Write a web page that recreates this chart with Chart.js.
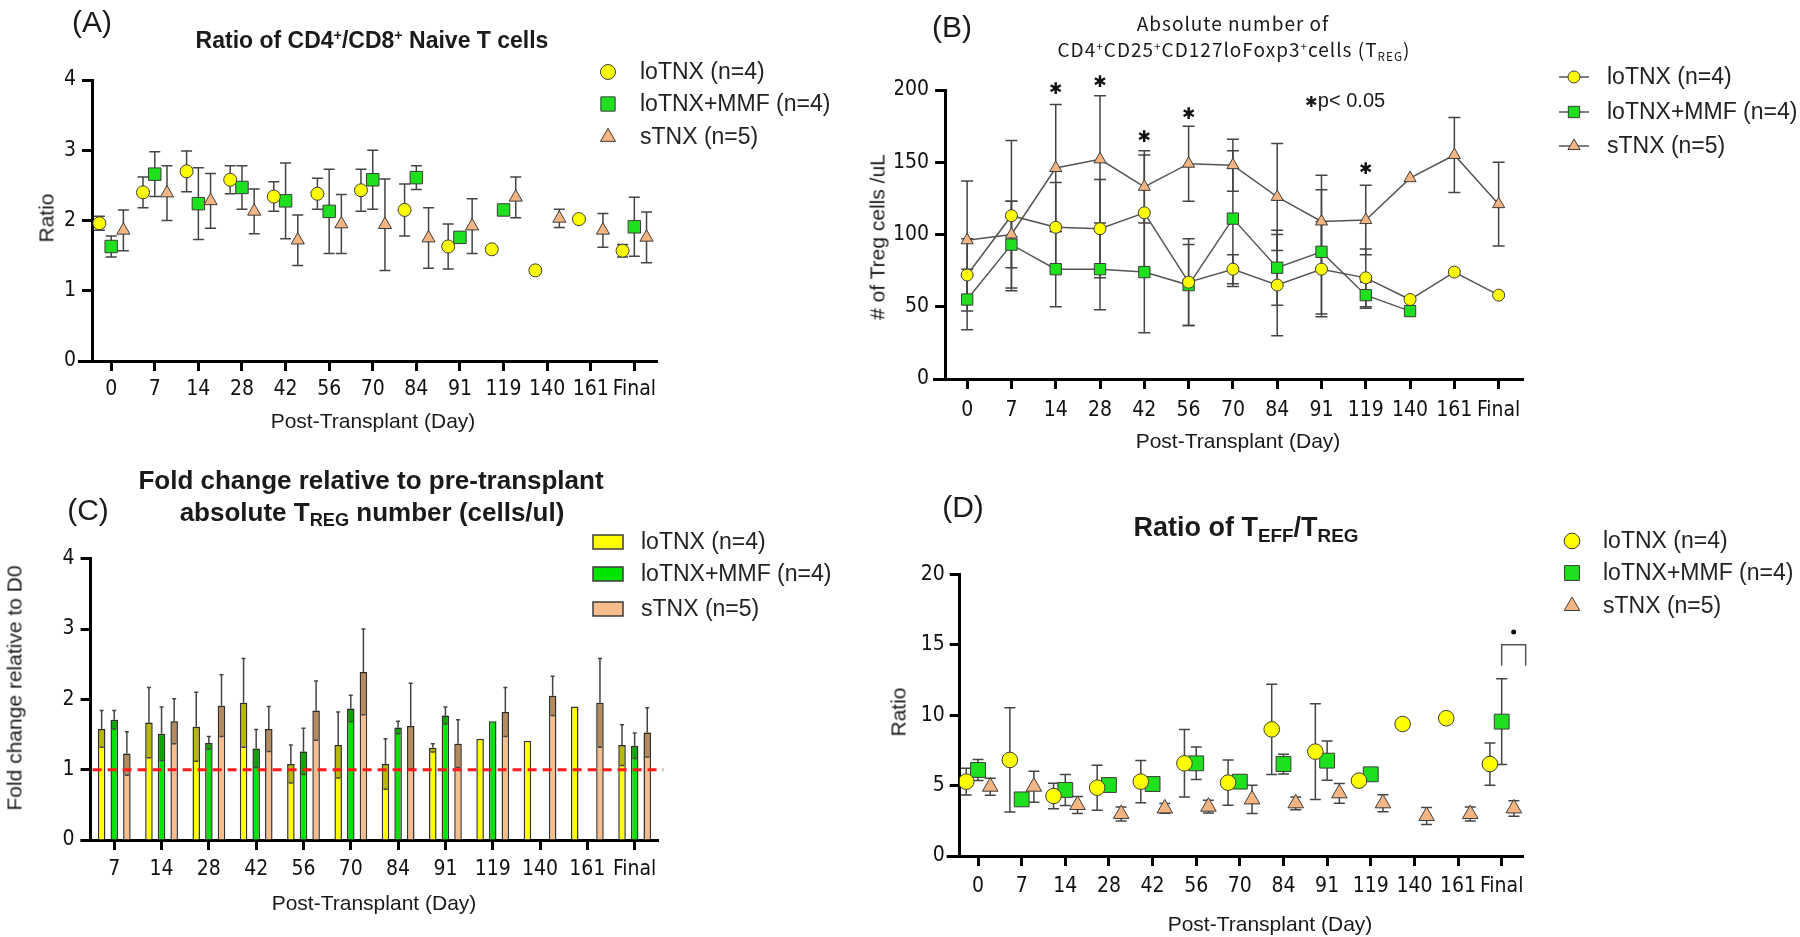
<!DOCTYPE html>
<html>
<head>
<meta charset="utf-8">
<title>Treg panels</title>
<script src="https://cdn.jsdelivr.net/npm/chart.js@4.4.1/dist/chart.umd.min.js"></script>
<style>
  html, body { margin: 0; padding: 0; background: #fff; }
  #page { position: relative; width: 1800px; height: 937px; overflow: hidden;
          font-family: 'Liberation Sans', Arial, sans-serif; color: #1a1a1a; }
  #page canvas { position: absolute; left: 0; top: 0; }
  .t { position: absolute; white-space: nowrap; line-height: 1; transform: translate(-50%, -50%); }
  .v { transform: translate(-50%, -50%) rotate(-90deg); }
  .lab { font-size: 30px; }
  .axt { font-size: 21px; }
  .bt { font-weight: bold; }
  .jp { font-family: 'Noto Sans CJK JP', sans-serif; font-size: 19px; letter-spacing: 1px; }
  sup, sub { font-size: 0.62em; vertical-align: baseline; position: relative; line-height: 0; }
  sup { top: -0.55em; }
  sub { top: 0.3em; }
  .big sub { font-size: 0.7em; }
</style>
</head>
<body>
<div id="page">
  <canvas id="chartA" width="1800" height="937"></canvas>
  <canvas id="chartB" width="1800" height="937"></canvas>
  <canvas id="chartC" width="1800" height="937"></canvas>
  <canvas id="chartD" width="1800" height="937"></canvas>

  <div class="t lab" style="left:92px;top:22px">(A)</div>
  <div class="t lab" style="left:952px;top:27px">(B)</div>
  <div class="t lab" style="left:88px;top:510px">(C)</div>
  <div class="t lab" style="left:963px;top:507px">(D)</div>

  <div class="t bt" style="left:372px;top:40px;font-size:23px">Ratio of CD4<sup>+</sup>/CD8<sup>+</sup> Naive T cells</div>
  <div class="t jp" style="left:1233px;top:22px">Absolute number of</div>
  <div class="t jp" style="left:1234px;top:48px">CD4<sup>+</sup>CD25<sup>+</sup>CD127loFoxp3<sup>+</sup>cells (T<sub>REG</sub>)</div>
  <div class="t bt" style="left:371px;top:480px;font-size:26px">Fold change relative to pre-transplant</div>
  <div class="t bt big" style="left:372px;top:512px;font-size:26px">absolute T<sub>REG</sub> number (cells/ul)</div>
  <div class="t bt big" style="left:1246px;top:527px;font-size:27px">Ratio of T<sub>EFF</sub>/T<sub>REG</sub></div>

  <div class="t axt" style="left:373px;top:420px">Post-Transplant (Day)</div>
  <div class="t axt v" style="left:46px;top:218px">Ratio</div>
  <div class="t axt" style="left:1238px;top:440px">Post-Transplant (Day)</div>
  <div class="t axt v" style="left:877px;top:237px"># of Treg cells /uL</div>
  <div class="t axt" style="left:374px;top:902px">Post-Transplant (Day)</div>
  <div class="t axt v" style="left:14px;top:688px">Fold change relative to D0</div>
  <div class="t axt" style="left:1270px;top:923px">Post-Transplant (Day)</div>
  <div class="t axt v" style="left:898px;top:712px">Ratio</div>

  <div class="t" style="left:1345px;top:100px;font-size:20px"><span style="font-size:15px">✱</span>p&lt; 0.05</div>
</div>

<script>
// ---- data ----
const DAYS = ['0', '7', '14', '28', '42', '56', '70', '84', '91', '119', '140', '161', 'Final'];
const DAYS_C = ['7', '14', '28', '42', '56', '70', '84', '91', '119', '140', '161', 'Final'];
const GROUPS = ['loTNX (n=4)', 'loTNX+MMF (n=4)', 'sTNX (n=5)'];

// (A) CD4/CD8 naive ratio, mean and SEM
const aLo     = [1.96, 2.40, 2.70, 2.58, 2.34, 2.38, 2.43, 2.15, 1.63, 1.59, 1.29, 2.02, 1.57];
const aLoErr  = [0.10, 0.22, 0.29, 0.20, 0.21, 0.22, 0.30, 0.37, 0.32, 0, 0, 0, 0.09];
const aMmf    = [1.63, 2.66, 2.24, 2.47, 2.28, 2.13, 2.58, 2.61, 1.76, 2.15, null, null, 1.91];
const aMmfErr = [0.15, 0.32, 0.51, 0.31, 0.54, 0.60, 0.42, 0.17, 0, 0, null, null, 0.42];
const aS      = [1.86, 2.39, 2.28, 2.13, 1.72, 1.95, 1.94, 1.75, 1.92, 2.33, 2.03, 1.86, 1.76];
const aSErr   = [0.29, 0.39, 0.39, 0.32, 0.36, 0.42, 0.65, 0.43, 0.39, 0.29, 0.13, 0.24, 0.36];

// (B) absolute Treg count (cells/uL)
const bLo     = [72, 113, 105, 104, 115, 67, 76, 65, 76, 70, 55, 74, 58];
const bLoErr  = [25, 52, 31, 34, 40, 30, 10, 35, 33, 20, 0, 0, 0];
const bMmf    = [55, 93, 76, 76, 74, 65, 111, 77, 88, 58, 47, null, null];
const bMmfErr = [21, 30, 26, 28, 42, 28, 47, 26, 43, 9, 0, null, null];
const bS      = [96, 100, 146, 152, 133, 149, 148, 126, 109, 110, 139, 155, 121];
const bSErr   = [41, 23, 44, 44, 25, 26, 18, 37, 32, 24, 0, 26, 29];
const bStarDay = [2, 3, 4, 5, 9];          // index into DAYS
const bStarY   = [200, 205, 167, 183, 145];

// (C) fold change vs D0
const cLo     = [1.58, 1.67, 1.61, 1.95, 1.08, 1.35, 1.08, 1.31, 1.44, 1.41, 1.90, 1.35];
const cLoErr  = [0.26, 0.50, 0.49, 0.63, 0.27, 0.47, 0.36, 0.06, 0, 0, 0, 0.29];
const cMmf    = [1.71, 1.51, 1.38, 1.30, 1.26, 1.87, 1.60, 1.77, 1.69, null, null, 1.34];
const cMmfErr = [0.13, 0.38, 0.09, 0.27, 0.33, 0.19, 0.09, 0.12, 0, null, null, 0.18];
const cS      = [1.23, 1.69, 1.91, 1.58, 1.84, 2.39, 1.62, 1.37, 1.82, 2.05, 1.95, 1.53];
const cSErr   = [0.31, 0.32, 0.44, 0.32, 0.42, 0.61, 0.61, 0.34, 0.35, 0.28, 0.63, 0.35];
const cRefLine = 1;

// (D) Teff/Treg ratio
const dLo     = [5.28, 6.82, 4.26, 4.85, 5.28, 6.58, 5.21, 8.99, 7.41, 5.35, 9.37, 9.78, 6.53];
const dLoErr  = [0.95, 3.7, 0.9, 1.6, 1.5, 2.4, 1.6, 3.2, 3.4, 0, 0, 0, 1.5];
const dMmf    = [6.11, 4.02, 4.69, 5.04, 5.11, 6.58, 5.28, 6.53, 6.77, 5.80, null, null, 9.54];
const dMmfErr = [0.75, 0, 1.1, 0, 0, 1.15, 0, 0.7, 1.4, 0, null, null, 3.05];
const dS      = [4.92, 4.92, 3.62, 2.98, 3.38, 3.50, 4.02, 3.74, 4.45, 3.74, 2.84, 2.98, 3.38];
const dSErr   = [0.6, 1.1, 0.6, 0.5, 0.35, 0.45, 1.0, 0.45, 0.7, 0.6, 0.6, 0.5, 0.55];
const dSig = { from: 12, to: 12.55, top: 15, foot: 13.5, dot: 15.9 };

// ---- look ----
const YEL = '#ffff00', GRN = '#1ee01e', ORG = '#f5b583', EDGE = '#3c3c3c';
const BAR_YEL = '#ffff00', BAR_GRN = '#00e400', BAR_ORG = '#f8bd8c';
const SHIFT = [-0.27, 0, 0.28];   // side-by-side offset inside a day
const TICK_FONT = { family: "'Liberation Sans Narrow','DejaVu Sans Condensed',sans-serif", size: 21 };
const YW = 50, XH = 50;           // fixed scale box sizes

Chart.defaults.animation = false;
Chart.defaults.events = [];
Chart.defaults.color = '#111';

function pad(l, t, r, b) {
  return { left: l - YW, top: t, right: 1800 - r, bottom: 937 - b - XH };
}

function pts(vals, shift) {
  return vals.map((v, i) => ({ x: i + shift, y: v }));
}

function marker(ctx, style, x, y, r) {
  ctx.beginPath();
  if (style === 'circle') {
    ctx.arc(x, y, r, 0, Math.PI * 2);
  } else if (style === 'rect') {
    const s = r * Math.SQRT1_2;
    ctx.rect(x - s, y - s, 2 * s, 2 * s);
  } else {
    const a = 2 * Math.PI / 3;
    ctx.moveTo(x, y - r);
    ctx.lineTo(x + r * Math.sin(a), y - r * Math.cos(a));
    ctx.lineTo(x + r * Math.sin(2 * a), y - r * Math.cos(2 * a));
    ctx.closePath();
  }
  ctx.fill();
  ctx.stroke();
}

function yAxis(max, step, tickPad) {
  return {
    min: 0, max: max,
    ticks: { stepSize: step, font: TICK_FONT, color: '#111', padding: tickPad },
    grid: { drawOnChartArea: false, tickLength: 10, tickWidth: 3, color: '#000' },
    border: { width: 3, color: '#000' },
    afterFit: s => { s.width = YW; }
  };
}

function xLinear(min, max, tickPad) {
  return {
    type: 'linear', min: min, max: max,
    afterBuildTicks: s => { s.ticks = DAYS.map((d, i) => ({ value: i })); },
    ticks: { callback: v => DAYS[v], autoSkip: false, maxRotation: 0, font: TICK_FONT, color: '#111', padding: tickPad },
    grid: { drawOnChartArea: false, tickLength: 10, tickWidth: 3, color: '#000' },
    border: { width: 3, color: '#000' },
    afterFit: s => { s.height = XH; }
  };
}

// ---- plugins ----
const pointErr = {
  id: 'pointErr',
  beforeDatasetsDraw(chart, args, o) {
    const { ctx } = chart, y = chart.scales.y;
    ctx.save();
    ctx.strokeStyle = o.color || '#444';
    ctx.lineWidth = o.width || 1.5;
    chart.data.datasets.forEach((ds, di) => {
      const meta = chart.getDatasetMeta(di);
      (ds.err || []).forEach((e, i) => {
        const v = ds.data[i].y;
        if (v == null || !e) return;
        const px = meta.data[i].x;
        const top = y.getPixelForValue(v + e), bot = y.getPixelForValue(v - e);
        ctx.beginPath();
        ctx.moveTo(px, top); ctx.lineTo(px, bot);
        ctx.moveTo(px - o.cap, top); ctx.lineTo(px + o.cap, top);
        ctx.moveTo(px - o.cap, bot); ctx.lineTo(px + o.cap, bot);
        ctx.stroke();
      });
    });
    ctx.restore();
  }
};

const barErr = {
  id: 'barErr',
  afterDatasetsDraw(chart, args, o) {
    const { ctx } = chart, y = chart.scales.y;
    ctx.save();
    chart.data.datasets.forEach((ds, di) => {
      const meta = chart.getDatasetMeta(di);
      ds.err.forEach((e, i) => {
        const v = ds.data[i];
        if (v == null || !e) return;
        const bar = meta.data[i], half = bar.width / 2;
        const top = y.getPixelForValue(v), lo = y.getPixelForValue(v - e), hi = y.getPixelForValue(v + e);
        ctx.fillStyle = 'rgba(40,30,0,0.32)';
        ctx.fillRect(bar.x - half + 1, top, 2 * half - 2, lo - top);
        ctx.strokeStyle = '#444';
        ctx.lineWidth = 1.5;
        ctx.beginPath();
        ctx.moveTo(bar.x - 2, lo); ctx.lineTo(bar.x + 2, lo);
        ctx.moveTo(bar.x, top); ctx.lineTo(bar.x, hi);
        ctx.moveTo(bar.x - 2, hi); ctx.lineTo(bar.x + 2, hi);
        ctx.stroke();
      });
    });
    ctx.restore();
  }
};

const axisStub = {
  id: 'axisStub',
  afterDraw(chart, args, o) {
    if (!o.len) return;
    const { ctx, chartArea: a } = chart;
    ctx.save();
    ctx.strokeStyle = '#000';
    ctx.lineWidth = 3;
    ctx.beginPath();
    ctx.moveTo(a.left - o.len, a.bottom + 0.5);
    ctx.lineTo(a.left, a.bottom + 0.5);
    ctx.stroke();
    ctx.restore();
  }
};

const sideLegend = {
  id: 'sideLegend',
  afterDraw(chart, args, o) {
    if (!o.ys) return;
    const { ctx } = chart;
    ctx.save();
    ctx.font = '23px "Liberation Sans", Arial, sans-serif';
    ctx.textBaseline = 'middle';
    chart.data.datasets.forEach((ds, i) => {
      const y = o.ys[i];
      ctx.fillStyle = ds.backgroundColor;
      ctx.strokeStyle = EDGE;
      ctx.lineWidth = 1;
      if (o.box) {
        ctx.lineWidth = 1.5;
        ctx.fillRect(o.x - o.box[0] / 2, y - o.box[1] / 2, o.box[0], o.box[1]);
        ctx.strokeRect(o.x - o.box[0] / 2, y - o.box[1] / 2, o.box[0], o.box[1]);
      } else {
        if (o.line) {
          ctx.strokeStyle = '#555';
          ctx.lineWidth = 1.5;
          ctx.beginPath();
          ctx.moveTo(o.x - o.line, y); ctx.lineTo(o.x + o.line, y);
          ctx.stroke();
          ctx.strokeStyle = EDGE;
          ctx.lineWidth = 1;
        }
        marker(ctx, ds.pointStyle, o.x, y, ds.pointRadius * (o.grow || 1));
      }
      ctx.fillStyle = '#222';
      ctx.fillText(ds.label, o.textX, y + 1);
    });
    ctx.restore();
  }
};

const extras = {
  id: 'extras',
  afterDraw(chart, args, o) {
    const { ctx, chartArea: a } = chart, x = chart.scales.x, y = chart.scales.y;
    ctx.save();
    if (o.stars) {
      ctx.fillStyle = '#111';
      ctx.font = 'bold 16px "DejaVu Sans", sans-serif';
      ctx.textAlign = 'center';
      ctx.textBaseline = 'middle';
      o.stars.day.forEach((d, i) => {
        ctx.fillText('✱', x.getPixelForValue(d), y.getPixelForValue(o.stars.val[i]));
      });
    }
    if (o.refLine != null) {
      const py = y.getPixelForValue(o.refLine);
      ctx.strokeStyle = '#ff1a1a';
      ctx.lineWidth = 3;
      ctx.setLineDash([9, 6]);
      ctx.beginPath();
      ctx.moveTo(a.left + 2, py); ctx.lineTo(a.right + 5, py);
      ctx.stroke();
      ctx.setLineDash([]);
    }
    if (o.sig) {
      const s = o.sig;
      const x0 = x.getPixelForValue(s.from), x1 = x.getPixelForValue(s.to);
      const yt = y.getPixelForValue(s.top), yf = y.getPixelForValue(s.foot);
      ctx.strokeStyle = '#555';
      ctx.lineWidth = 1.5;
      ctx.beginPath();
      ctx.moveTo(x0, yf); ctx.lineTo(x0, yt); ctx.lineTo(x1, yt); ctx.lineTo(x1, yf);
      ctx.stroke();
      ctx.fillStyle = '#111';
      ctx.beginPath();
      ctx.arc((x0 + x1) / 2, y.getPixelForValue(s.dot), 2.5, 0, Math.PI * 2);
      ctx.fill();
    }
    ctx.restore();
  }
};

function scatterSets(vals, errs, radii, line) {
  const fills = [YEL, GRN, ORG], styles = ['circle', 'rect', 'triangle'];
  return vals.map((v, k) => ({
    label: GROUPS[k],
    data: pts(v, line ? 0 : SHIFT[k]),
    err: errs[k],
    showLine: !!line,
    borderColor: line ? '#555' : EDGE,
    borderWidth: line ? 1.5 : 1,
    spanGaps: false,
    backgroundColor: fills[k],
    pointBackgroundColor: fills[k],
    pointBorderColor: EDGE,
    pointBorderWidth: 1,
    pointStyle: styles[k],
    pointRadius: radii[k]
  }));
}

// ---- (A) ----
new Chart(document.getElementById('chartA'), {
  type: 'scatter',
  data: { datasets: scatterSets([aLo, aMmf, aS], [aLoErr, aMmfErr, aSErr], [6.5, 8.8, 7.6], false) },
  options: {
    responsive: false,
    layout: { padding: pad(92, 80, 657, 361) },
    scales: { x: xLinear(-0.44, 12.52, 6), y: yAxis(4, 1, 6) },
    plugins: {
      legend: { display: false }, tooltip: { enabled: false },
      pointErr: { cap: 5.5, width: 1.5, color: '#444' },
      axisStub: { len: 14 },
      sideLegend: { x: 608, textX: 640, ys: [72, 104, 137], grow: 1.15 }
    }
  },
  plugins: [pointErr, axisStub, sideLegend]
});

// ---- (B) ----
new Chart(document.getElementById('chartB'), {
  type: 'scatter',
  data: { datasets: scatterSets([bLo, bMmf, bS], [bLoErr, bMmfErr, bSErr], [6, 8, 7], true) },
  options: {
    responsive: false,
    layout: { padding: pad(945, 90, 1523, 379) },
    scales: { x: xLinear(-0.5, 12.55, 9), y: yAxis(200, 50, 6) },
    plugins: {
      legend: { display: false }, tooltip: { enabled: false },
      pointErr: { cap: 6, width: 1.5, color: '#444' },
      axisStub: { len: 12 },
      sideLegend: { x: 1574, textX: 1607, ys: [77, 112, 146], line: 15 },
      extras: { stars: { day: bStarDay, val: bStarY } }
    }
  },
  plugins: [pointErr, axisStub, sideLegend, extras]
});

// ---- (C) ----
new Chart(document.getElementById('chartC'), {
  type: 'bar',
  data: {
    labels: DAYS_C,
    datasets: [
      { label: GROUPS[0], data: cLo, err: cLoErr, backgroundColor: BAR_YEL },
      { label: GROUPS[1], data: cMmf, err: cMmfErr, backgroundColor: BAR_GRN },
      { label: GROUPS[2], data: cS, err: cSErr, backgroundColor: BAR_ORG }
    ].map(d => Object.assign(d, { borderColor: '#333', borderWidth: 1.5, categoryPercentage: 0.8, barPercentage: 0.6 }))
  },
  options: {
    responsive: false,
    layout: { padding: pad(90.6, 558.7, 658.3, 840) },
    scales: {
      x: {
        type: 'category',
        ticks: { autoSkip: false, maxRotation: 0, font: TICK_FONT, color: '#111', padding: 7 },
        grid: { offset: false, drawOnChartArea: false, tickLength: 10, tickWidth: 3, color: '#000' },
        border: { width: 3, color: '#000' },
        afterFit: s => { s.height = XH; }
      },
      y: yAxis(4, 1, 6)
    },
    plugins: {
      legend: { display: false }, tooltip: { enabled: false },
      axisStub: { len: 10 },
      sideLegend: { x: 608, textX: 641, ys: [542, 574, 609], box: [30, 14] },
      extras: { refLine: cRefLine }
    }
  },
  plugins: [barErr, axisStub, sideLegend, extras]
});

// ---- (D) ----
new Chart(document.getElementById('chartD'), {
  type: 'scatter',
  data: { datasets: scatterSets([dLo, dMmf, dS], [dLoErr, dMmfErr, dSErr], [7.8, 10.5, 9], false) },
  options: {
    responsive: false,
    layout: { padding: pad(959.7, 574.3, 1523.5, 856) },
    scales: { x: xLinear(-0.42, 12.5, 8), y: yAxis(20, 5, 5) },
    plugins: {
      legend: { display: false }, tooltip: { enabled: false },
      pointErr: { cap: 5.5, width: 1.5, color: '#444' },
      axisStub: { len: 13 },
      sideLegend: { x: 1572, textX: 1603, ys: [541, 573, 606] },
      extras: { sig: dSig }
    }
  },
  plugins: [pointErr, axisStub, sideLegend, extras]
});
</script>
</body>
</html>
